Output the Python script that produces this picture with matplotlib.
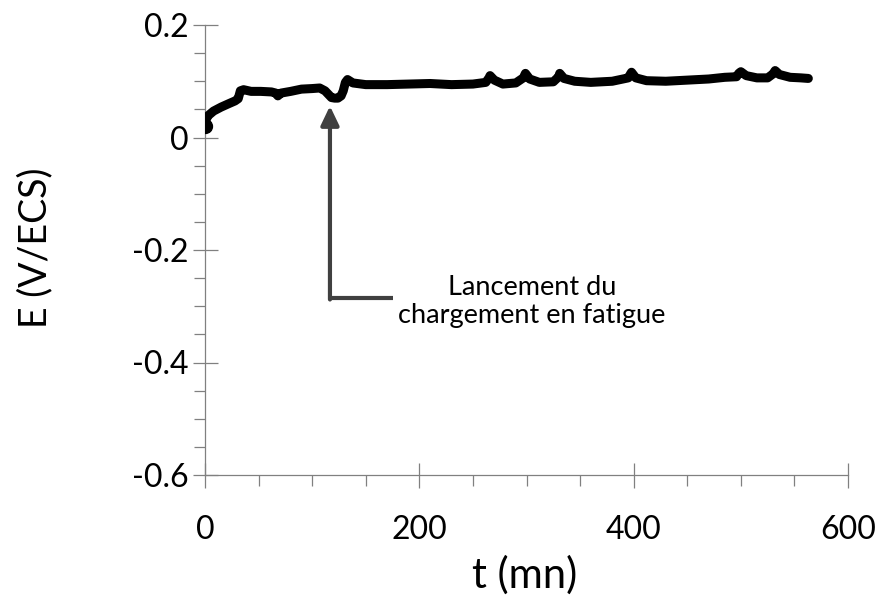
"""
Open-circuit potential vs time, with the start of fatigue loading marked.
Saves out.png (884x597).
"""

import matplotlib
matplotlib.use("Agg")
import matplotlib.pyplot as plt
from matplotlib.ticker import MultipleLocator

# ── Data ────────────────────────────────────────────────────────────────────────
t_mn = [0, 1, 3, 8, 15, 22, 28, 31, 33, 36, 43, 52, 62, 66, 68, 71, 80, 90,
        100, 107, 112, 115, 118, 121, 124, 127, 129, 131, 133, 138, 150, 170,
        190, 210, 230, 250, 262, 265, 266, 270, 278, 290, 297, 299, 303, 312,
        325, 330, 331, 335, 345, 360, 380, 395, 397, 398, 402, 412, 430, 450,
        470, 485, 496, 498, 500, 505, 515, 525, 530, 532, 536, 546, 556, 563]
E_vecs = [0.021, 0.032, 0.039, 0.047, 0.054, 0.060, 0.065, 0.069, 0.083, 0.085,
          0.082, 0.082, 0.081, 0.079, 0.074, 0.079, 0.082, 0.086, 0.087, 0.088,
          0.083, 0.077, 0.071, 0.070, 0.070, 0.074, 0.083, 0.098, 0.103, 0.097,
          0.094, 0.094, 0.095, 0.096, 0.094, 0.095, 0.098, 0.106, 0.110, 0.102,
          0.095, 0.097, 0.106, 0.114, 0.104, 0.098, 0.099, 0.108, 0.114, 0.105,
          0.100, 0.098, 0.100, 0.106, 0.113, 0.116, 0.106, 0.101, 0.100, 0.102,
          0.104, 0.107, 0.108, 0.114, 0.117, 0.110, 0.106, 0.106, 0.113, 0.119,
          0.112, 0.107, 0.106, 0.105]

y_ticks = [0.2, 0, -0.2, -0.4, -0.6]
y_tick_labels = ["0.2", "0", "-0.2", "-0.4", "-0.6"]
x_ticks = [0, 200, 400, 600]
x_tick_labels = ["0", "200", "400", "600"]

# annotation: arrow points at the start of fatigue loading
arrow_t = 116.6
arrow_tip_E = 0.056
arrow_base_E = -0.285
arrow_foot_t = 175
note_text = "Lancement du\nchargement en fatigue"

# ── Style ──────────────────────────────────────────────────────────────────────
FONT = ["Lato", "DejaVu Sans"]
C_AXIS = "#808080"
C_ARROW = "#404040"
plt.rcParams["font.family"] = FONT
plt.rcParams["axes.unicode_minus"] = False

W, H = 884, 597
fig = plt.figure(figsize=(W / 100, H / 100), dpi=100)
fig.patch.set_facecolor("white")
ax = fig.add_axes([205 / W, 1 - 475 / H, 643 / W, 450 / H])

# ── Curve ──────────────────────────────────────────────────────────────────────
ax.plot(t_mn, E_vecs, color="black", lw=6.5,
        solid_capstyle="round", solid_joinstyle="round", zorder=3)
ax.plot(t_mn[0], E_vecs[0], "o", color="black", ms=10, zorder=4)

# ── Axes ───────────────────────────────────────────────────────────────────────
ax.set_xlim(0, 600)
ax.set_ylim(-0.6, 0.2)
for side in ("top", "right"):
    ax.spines[side].set_visible(False)
for side in ("left", "bottom"):
    ax.spines[side].set_color(C_AXIS)
    ax.spines[side].set_linewidth(0.9)

ax.set_xticks(x_ticks)
ax.set_xticklabels(x_tick_labels)
ax.set_yticks(y_ticks)
ax.set_yticklabels(y_tick_labels)
ax.xaxis.set_minor_locator(MultipleLocator(50))
ax.yaxis.set_minor_locator(MultipleLocator(0.05))

ax.tick_params(which="major", direction="inout", length=18, width=0.9,
               color=C_AXIS, labelsize=23, labelcolor="black")
ax.tick_params(which="minor", direction="out", length=8, width=0.9,
               color=C_AXIS)
ax.tick_params(axis="x", which="major", pad=20)
ax.tick_params(axis="y", which="major", pad=3)

# axis titles placed in figure pixels, as in the reference
fig.text(525 / W, 1 - 575 / H, "t (mn)", fontsize=30,
         ha="center", va="center")
fig.text(35 / W, 1 - 248 / H, "E (V/ECS)", fontsize=27, rotation=90,
         ha="center", va="center")

# ── Annotation ─────────────────────────────────────────────────────────────────
ax.plot([arrow_foot_t, arrow_t], [arrow_base_E, arrow_base_E],
        color=C_ARROW, lw=3, solid_capstyle="butt", zorder=2)
ax.annotate("", xy=(arrow_t, arrow_tip_E), xytext=(arrow_t, arrow_base_E - 0.003),
            arrowprops=dict(arrowstyle="-|>,head_length=1.15,head_width=0.55",
                            color=C_ARROW, lw=3, shrinkA=0, shrinkB=0,
                            mutation_scale=10), zorder=2)
ax.text(305, -0.292, note_text, ha="center", va="center",
        fontsize=19.5, linespacing=1.15, color="black")

fig.savefig("out.png", dpi=100, facecolor="white")
